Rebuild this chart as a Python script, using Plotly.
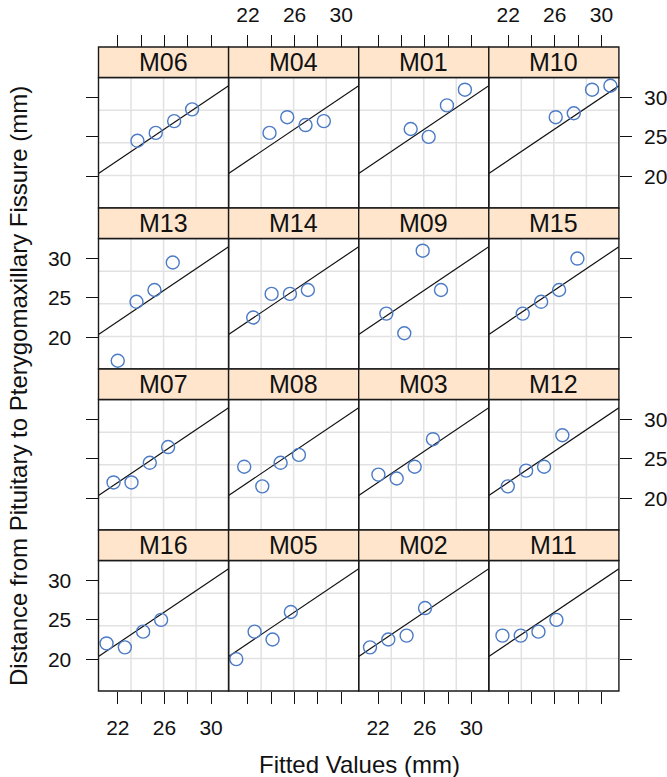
import plotly.graph_objects as go

W, H = 667, 777

subjects = ["M06", "M04", "M01", "M10",
            "M13", "M14", "M09", "M15",
            "M07", "M08", "M03", "M12",
            "M16", "M05", "M02", "M11"]

fitted = [
    [23.68, 25.25, 26.83, 28.37],
    [23.85, 25.37, 26.94, 28.51],
    [24.80, 26.34, 27.91, 29.45],
    [26.08, 27.63, 29.20, 30.77],
    [21.99, 23.60, 25.14, 26.71],
    [22.45, 24.03, 25.60, 27.14],
    [22.71, 24.25, 25.83, 27.40],
    [23.25, 24.83, 26.37, 27.94],
    [21.63, 23.17, 24.74, 26.31],
    [21.68, 23.23, 24.80, 26.37],
    [22.03, 23.60, 25.14, 26.71],
    [21.97, 23.54, 25.08, 26.65],
    [21.03, 22.60, 24.17, 25.71],
    [21.00, 22.57, 24.11, 25.68],
    [21.31, 22.88, 24.45, 26.03],
    [21.51, 23.08, 24.60, 26.14],
]

observed = [
    [24.5, 25.5, 27.0, 28.5],
    [25.5, 27.5, 26.5, 27.0],
    [26.0, 25.0, 29.0, 31.0],
    [27.5, 28.0, 31.0, 31.5],
    [17.0, 24.5, 26.0, 29.5],
    [22.5, 25.5, 25.5, 26.0],
    [23.0, 20.5, 31.0, 26.0],
    [23.0, 24.5, 26.0, 30.0],
    [22.0, 22.0, 24.5, 26.5],
    [24.0, 21.5, 24.5, 25.5],
    [23.0, 22.5, 24.0, 27.5],
    [21.5, 23.5, 24.0, 28.0],
    [22.0, 21.5, 23.5, 25.0],
    [20.0, 23.5, 22.5, 26.0],
    [21.5, 22.5, 23.0, 26.5],
    [23.0, 23.0, 23.5, 25.0],
]

x_ticks = [22, 24, 26, 28, 30]
x_ticklabels = ["22", "", "26", "", "30"]
y_ticks = [20, 25, 30]
y_ticklabels = ["20", "25", "30"]

x_title = "Fitted Values (mm)"
y_title = "Distance from Pituitary to Pterygomaxillary Fissure (mm)"

XR = [20.34, 31.5]
YR = [15.95, 32.55]

FONT = "Liberation Sans, Arial, Helvetica, sans-serif"
PT_COL = "#4C7BC6"
STRIP_BG = "#FFE5CC"
GRID_COL = "#E2E2E2"
TICK_FS = 21

col_left0, col_w = 98.5, 130.1
row_top0, strip_h, panel_h = 47.0, 30.5, 130.5
row_h = strip_h + panel_h

fig = go.Figure()
shapes = []
annotations = []
layout_axes = {}

for i, subj in enumerate(subjects):
    r, c = divmod(i, 4)
    n = i + 1
    xs = "" if n == 1 else str(n)
    xl = col_left0 + c * col_w
    xr = xl + col_w
    st = row_top0 + r * row_h
    pt = st + strip_h
    pb = pt + panel_h

    xdom = [xl / W, xr / W]
    ydom = [1 - pb / H, 1 - pt / H]

    xax = dict(domain=xdom, range=XR, showgrid=False, zeroline=False,
               showline=False, fixedrange=True,
               tickfont=dict(family=FONT, size=TICK_FS, color="#111"),
               ticks="outside", ticklen=12, tickwidth=1.2, tickcolor="#111",
               tickvals=x_ticks)
    if r == 0:
        xax.update(side="top", anchor="free", position=1 - st / H,
                   ticktext=x_ticklabels if c in (1, 3) else [""] * 5,
                   ticklabelstandoff=5)
    elif r == 3:
        xax.update(side="bottom", anchor="y" + xs,
                   ticktext=x_ticklabels if c in (0, 2) else [""] * 5,
                   ticklabelstandoff=6)
    else:
        xax.update(visible=False, anchor="y" + xs)

    yax = dict(domain=ydom, range=YR, showgrid=False, zeroline=False,
               showline=False, fixedrange=True, anchor="x" + xs,
               tickfont=dict(family=FONT, size=TICK_FS, color="#111"),
               ticks="outside", ticklen=12, tickwidth=1.2, tickcolor="#111",
               tickvals=y_ticks)
    if c == 0:
        yax.update(side="left",
                   ticktext=y_ticklabels if r in (1, 3) else [""] * 3,
                   ticklabelstandoff=10)
    elif c == 3:
        yax.update(side="right",
                   ticktext=y_ticklabels if r in (0, 2) else [""] * 3,
                   ticklabelstandoff=8)
    else:
        yax.update(visible=False)

    layout_axes["xaxis" + xs] = xax
    layout_axes["yaxis" + xs] = yax

    # grid at quarter positions of the panel
    for k in (1, 2, 3):
        gx = XR[0] + k * (XR[1] - XR[0]) / 4
        gy = YR[0] + k * (YR[1] - YR[0]) / 4
        shapes.append(dict(type="line", xref="x" + xs, yref="y" + xs + " domain",
                           x0=gx, x1=gx, y0=0, y1=1,
                           line=dict(color=GRID_COL, width=1.5), layer="below"))
        shapes.append(dict(type="line", xref="x" + xs + " domain", yref="y" + xs,
                           x0=0, x1=1, y0=gy, y1=gy,
                           line=dict(color=GRID_COL, width=1.5), layer="below"))

    # reference line y = x
    fig.add_trace(go.Scatter(x=XR, y=XR, mode="lines",
                             line=dict(color="#111", width=1.2),
                             xaxis="x" + xs, yaxis="y" + xs,
                             showlegend=False, hoverinfo="skip"))
    fig.add_trace(go.Scatter(x=fitted[i], y=observed[i], mode="markers",
                             marker=dict(symbol="circle-open", size=13,
                                         color=PT_COL, line=dict(width=1.4, color=PT_COL)),
                             xaxis="x" + xs, yaxis="y" + xs,
                             showlegend=False, name=subj))

    # panel border
    shapes.append(dict(type="rect", xref="x" + xs + " domain", yref="y" + xs + " domain",
                       x0=0, x1=1, y0=0, y1=1,
                       line=dict(color="#1a1a1a", width=1.4), layer="above"))
    # strip
    shapes.append(dict(type="rect", xref="paper", yref="paper",
                       x0=xl / W, x1=xr / W, y0=1 - pt / H, y1=1 - st / H,
                       fillcolor=STRIP_BG, line=dict(color="#1a1a1a", width=1.4),
                       layer="above"))
    annotations.append(dict(text=subj, xref="paper", yref="paper",
                            x=(xl + xr) / 2 / W, y=1 - (st + pt) / 2 / H,
                            xanchor="center", yanchor="middle", showarrow=False,
                            font=dict(family=FONT, size=25, color="#111")))

annotations.append(dict(text=x_title, xref="paper", yref="paper",
                        x=359 / W, y=1 - 764 / H, xanchor="center", yanchor="middle",
                        showarrow=False, font=dict(family=FONT, size=24, color="#111")))
annotations.append(dict(text=y_title, xref="paper", yref="paper",
                        x=18 / W, y=1 - 386 / H, xanchor="center", yanchor="middle",
                        textangle=-90, showarrow=False,
                        font=dict(family=FONT, size=24, color="#111")))

fig.update_layout(width=W, height=H, margin=dict(l=0, r=0, t=0, b=0),
                  paper_bgcolor="white", plot_bgcolor="white",
                  shapes=shapes, annotations=annotations, **layout_axes)

fig.write_html("out.html", config={"displayModeBar": False},
               post_script="document.body.style.margin='0';document.body.style.padding='0';")
